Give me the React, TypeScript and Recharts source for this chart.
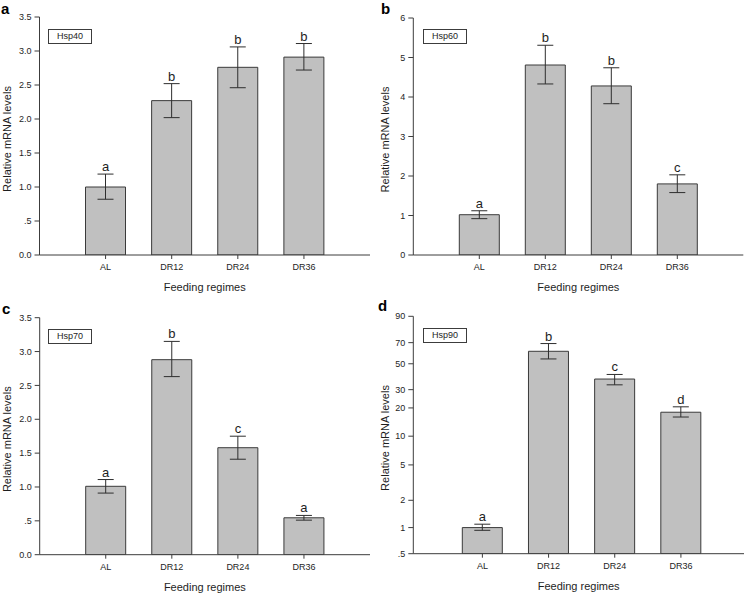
import React from "react";
import { ComposedChart, Bar, Line, XAxis, YAxis, ErrorBar, LabelList, Label } from "recharts";

const categories = ["AL", "DR12", "DR24", "DR36"];

const hsp40Values = [1.0, 2.27, 2.76, 2.91];
const hsp40Low = [0.82, 2.02, 2.46, 2.72];
const hsp40High = [1.19, 2.52, 3.06, 3.11];
const hsp40Letters = ["a", "b", "b", "b"];

const hsp60Values = [1.02, 4.81, 4.28, 1.8];
const hsp60Low = [0.92, 4.33, 3.83, 1.58];
const hsp60High = [1.12, 5.31, 4.74, 2.03];
const hsp60Letters = ["a", "b", "b", "c"];

const hsp70Values = [1.01, 2.88, 1.58, 0.545];
const hsp70Low = [0.91, 2.63, 1.41, 0.51];
const hsp70High = [1.11, 3.15, 1.75, 0.58];
const hsp70Letters = ["a", "b", "c", "a"];

const hsp90Values = [1.0, 61, 37, 18];
const hsp90Low = [0.93, 54, 33, 16];
const hsp90High = [1.09, 69, 40.5, 20.5];
const hsp90Letters = ["a", "b", "c", "d"];

const ticks35 = [0, 0.5, 1, 1.5, 2, 2.5, 3, 3.5];
const ticks35Labels = ["0.0", ".5", "1.0", "1.5", "2.0", "2.5", "3.0", "3.5"];
const ticks6 = [0, 1, 2, 3, 4, 5, 6];
const ticks6Labels = ["0", "1", "2", "3", "4", "5", "6"];

// Hsp90 panel: the original uses a non-uniform (log-like) axis; tick values and their axis fractions
const hsp90AxisTicks = [0.5, 1, 2, 5, 10, 20, 30, 50, 70, 90];
const hsp90AxisTickLabels = [".5", "1", "2", "5", "10", "20", "30", "50", "70", "90"];
const hsp90AxisStops = [0, 0.11, 0.225, 0.374, 0.495, 0.614, 0.691, 0.8, 0.889, 1];

const FONT = "'Liberation Sans', Arial, Helvetica, sans-serif";
const AXIS = "#3c3c3c";
const TEXT = "#1e1e1e";

function hsp90Scale(v: number): number {
  const lv = Math.log10(v);
  const lt = hsp90AxisTicks.map((t) => Math.log10(t));
  if (lv <= lt[0]) return hsp90AxisStops[0];
  for (let i = 1; i < lt.length; i++) {
    if (lv <= lt[i]) {
      const f = (lv - lt[i - 1]) / (lt[i] - lt[i - 1]);
      return hsp90AxisStops[i - 1] + f * (hsp90AxisStops[i] - hsp90AxisStops[i - 1]);
    }
  }
  return hsp90AxisStops[hsp90AxisStops.length - 1];
}

function buildRows(values: number[], low: number[], high: number[], letters: string[], tf?: (v: number) => number) {
  const t = tf || ((v: number) => v);
  return categories.map((c, i) => {
    const v = t(values[i]);
    const lo = t(low[i]);
    const hi = t(high[i]);
    return { cat: c, v, err: [v - lo, hi - v], hi, letter: letters[i] };
  });
}

type PanelCfg = {
  left: number;
  top: number;
  width: number;
  height: number;
  marginTop: number;
  marginRight: number;
  yAxisWidth: number;
  xAxisHeight: number;
  padL: number;
  padR: number;
  rows: any[];
  domain: [number, number];
  ticks: number[];
  tickLabels: string[];
  gene: string;
  letter: string;
  letterX: number;
  letterY: number;
  boxX: number;
  boxY: number;
  yTitleX: number;
};

const panels: PanelCfg[] = [
  {
    left: 0, top: 0, width: 374, height: 297, marginTop: 17, marginRight: 4, yAxisWidth: 39.5, xAxisHeight: 42,
    padL: 33, padR: 33,
    rows: buildRows(hsp40Values, hsp40Low, hsp40High, hsp40Letters),
    domain: [0, 3.5], ticks: ticks35, tickLabels: ticks35Labels,
    gene: "Hsp40", letter: "a", letterX: 1, letterY: 0, boxX: 48, boxY: 29, yTitleX: 11,
  },
  {
    left: 374, top: 0, width: 373, height: 297, marginTop: 18, marginRight: 3.7, yAxisWidth: 39.3, xAxisHeight: 42,
    padL: 33, padR: 33,
    rows: buildRows(hsp60Values, hsp60Low, hsp60High, hsp60Letters),
    domain: [0, 6], ticks: ticks6, tickLabels: ticks6Labels,
    gene: "Hsp60", letter: "b", letterX: 381, letterY: 0, boxX: 423, boxY: 29, yTitleX: 15,
  },
  {
    left: 0, top: 297, width: 374, height: 297, marginTop: 20.7, marginRight: 4, yAxisWidth: 39.7, xAxisHeight: 39.3,
    padL: 33, padR: 33,
    rows: buildRows(hsp70Values, hsp70Low, hsp70High, hsp70Letters),
    domain: [0, 3.5], ticks: ticks35, tickLabels: ticks35Labels,
    gene: "Hsp70", letter: "c", letterX: 2, letterY: 300, boxX: 48, boxY: 329, yTitleX: 11,
  },
  {
    left: 374, top: 297, width: 373, height: 297, marginTop: 19.3, marginRight: 3, yAxisWidth: 39.3, xAxisHeight: 40.3,
    padL: 36, padR: 30,
    rows: buildRows(hsp90Values, hsp90Low, hsp90High, hsp90Letters, hsp90Scale),
    domain: [0, 1], ticks: hsp90AxisStops, tickLabels: hsp90AxisTickLabels,
    gene: "Hsp90", letter: "d", letterX: 378, letterY: 297, boxX: 423, boxY: 328, yTitleX: 15,
  },
];

function Panel({ p }: { p: PanelCfg }) {
  const fmt = (v: number) => {
    const idx = p.ticks.findIndex((t) => Math.abs(t - v) < 1e-6);
    return idx >= 0 ? p.tickLabels[idx] : "";
  };
  return (
    <div style={{ position: "absolute", left: p.left, top: p.top, width: p.width, height: p.height }}>
      <ComposedChart
        width={p.width}
        height={p.height}
        data={p.rows}
        margin={{ top: p.marginTop, right: p.marginRight, left: 0, bottom: 0 }}
        style={{ fontFamily: FONT }}
      >
        <XAxis
          dataKey="cat"
          interval={0}
          padding={{ left: p.padL, right: p.padR }}
          height={p.xAxisHeight}
          tickSize={4}
          tickMargin={5}
          axisLine={{ stroke: AXIS, strokeWidth: 1 }}
          tickLine={{ stroke: AXIS, strokeWidth: 1 }}
          tick={{ fontSize: 9, fill: TEXT, fontFamily: FONT }}
        >
          <Label
            content={(props: any) => {
              const vb = props.viewBox || {};
              return (
                <text
                  x={vb.x + vb.width / 2}
                  y={vb.y + 36}
                  textAnchor="middle"
                  fontSize={11}
                  fill={TEXT}
                  fontFamily={FONT}
                >
                  Feeding regimes
                </text>
              );
            }}
          />
        </XAxis>
        <XAxis
          xAxisId="top"
          orientation="top"
          dataKey="cat"
          height={0}
          tick={false}
          tickLine={false}
          axisLine={{ stroke: AXIS, strokeWidth: 1 }}
        />
        <YAxis
          type="number"
          domain={p.domain}
          ticks={p.ticks}
          interval={0}
          allowDataOverflow
          width={p.yAxisWidth}
          tickSize={5}
          tickMargin={3}
          tickFormatter={fmt}
          axisLine={{ stroke: AXIS, strokeWidth: 1 }}
          tickLine={{ stroke: AXIS, strokeWidth: 1 }}
          tick={{ fontSize: 9, fill: TEXT, fontFamily: FONT }}
        >
          <Label
            content={(props: any) => {
              const vb = props.viewBox || {};
              const cx = vb.x + p.yTitleX;
              const cy = vb.y + vb.height / 2 + 3;
              return (
                <text
                  x={cx}
                  y={cy}
                  transform={`rotate(-90, ${cx}, ${cy})`}
                  textAnchor="middle"
                  fontSize={11}
                  fill={TEXT}
                  fontFamily={FONT}
                >
                  Relative mRNA levels
                </text>
              );
            }}
          />
        </YAxis>
        <YAxis
          yAxisId="right"
          orientation="right"
          type="number"
          domain={p.domain}
          width={0}
          tick={false}
          tickLine={false}
          axisLine={{ stroke: AXIS, strokeWidth: 1 }}
        />
        <Bar dataKey="v" barSize={40} fill="#c0c0c0" stroke="#3a3a3a" strokeWidth={1} isAnimationActive={false}>
          <ErrorBar dataKey="err" width={8} stroke="#2e2e2e" strokeWidth={1} direction="y" />
        </Bar>
        <Line
          dataKey="hi"
          stroke="none"
          dot={false}
          activeDot={false}
          isAnimationActive={false}
          legendType="none"
        >
          <LabelList dataKey="letter" position="top" offset={3} fill={TEXT} fontSize={13} fontFamily={FONT} />
        </Line>
      </ComposedChart>
    </div>
  );
}

export default function App() {
  return (
    <div style={{ position: "absolute", left: 0, top: 0, width: 747, height: 594, background: "#fff", fontFamily: FONT }}>
      {panels.map((p) => (
        <Panel key={p.gene} p={p} />
      ))}
      {panels.map((p) => (
        <div
          key={p.gene + "-box"}
          style={{
            position: "absolute",
            left: p.boxX,
            top: p.boxY,
            width: 44,
            height: 15,
            boxSizing: "border-box",
            border: `1px solid ${AXIS}`,
            background: "#fff",
            fontSize: 9,
            lineHeight: "13px",
            textAlign: "center",
            color: TEXT,
            fontFamily: FONT,
          }}
        >
          {p.gene}
        </div>
      ))}
      {panels.map((p) => (
        <div
          key={p.gene + "-letter"}
          style={{
            position: "absolute",
            left: p.letterX,
            top: p.letterY,
            fontSize: 15,
            fontWeight: "bold",
            lineHeight: "17px",
            color: "#000",
            fontFamily: FONT,
          }}
        >
          {p.letter}
        </div>
      ))}
    </div>
  );
}
